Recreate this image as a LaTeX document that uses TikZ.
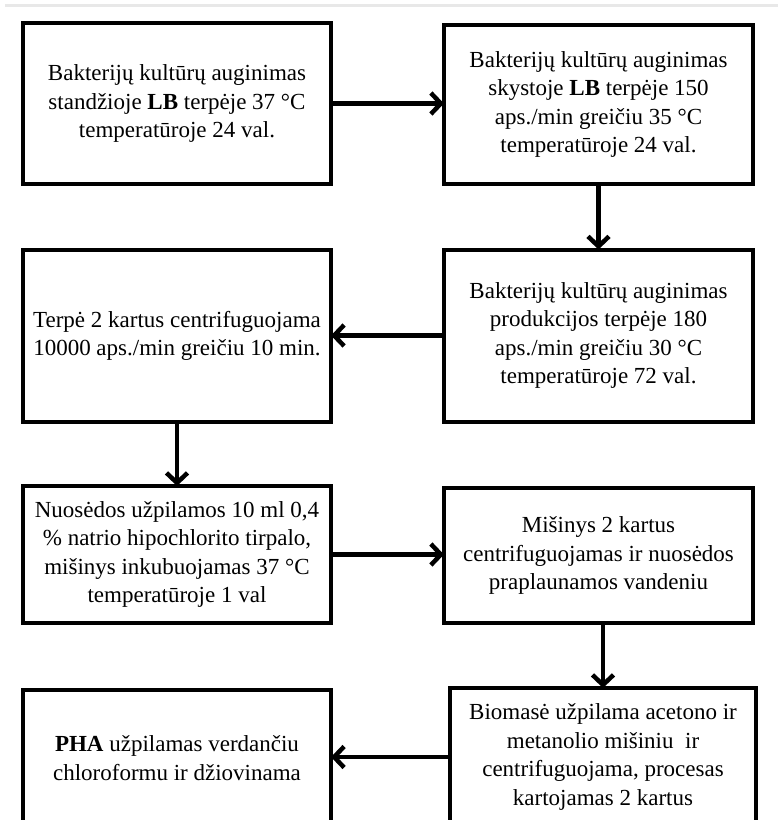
\documentclass[tikz,border=0pt]{standalone}
\usepackage{fontspec}
\setmainfont{Liberation Serif}
\usetikzlibrary{arrows.meta}
\begin{document}
\begin{tikzpicture}[x=1pt,y=-1pt,
  box/.style={draw=black, line width=4pt, inner sep=0pt, outer sep=0pt,
    align=center, font=\fontsize{23}{28.5}\selectfont},
  flow/.style={line width=4.5pt, -{Straight Barb[length=10pt,width=21pt]}}]
\useasboundingbox (0,0) rectangle (780,820);
\fill[gray!18] (5,4) rectangle (778,7);
\node[box, minimum width=308pt, minimum height=161pt] (b1) at (177,103.5)
  {Bakterijų kultūrų auginimas\\ standžioje \textbf{LB} terpėje 37 °C\\ temperatūroje 24 val.};
\node[box, minimum width=309pt, minimum height=159pt] (b2) at (598.5,104.5)
  {Bakterijų kultūrų auginimas\\ skystoje \textbf{LB} terpėje 150\\ aps./min greičiu 35 °C\\ temperatūroje 24 val.};
\node[box, minimum width=309pt, minimum height=172pt] (b3) at (598.5,335.5)
  {Bakterijų kultūrų auginimas\\ produkcijos terpėje 180\\ aps./min greičiu 30 °C\\ temperatūroje 72 val.};
\node[box, minimum width=308pt, minimum height=171.5pt] (b4) at (177,335.75)
  {Terpė 2 kartus centrifuguojama\\ 10000 aps./min greičiu 10 min.};
\node[box, minimum width=308pt, minimum height=137pt] (b5) at (177,554.5)
  {Nuosėdos užpilamos 10 ml 0,4\\ \% natrio hipochlorito tirpalo,\\ mišinys inkubuojamas 37 °C\\ temperatūroje 1 val};
\node[box, minimum width=309pt, minimum height=135pt] (b6) at (598.5,555.5)
  {Mišinys 2 kartus\\ centrifuguojamas ir nuosėdos\\ praplaunamos vandeniu};
\node[box, minimum width=306pt, minimum height=138pt] (b7) at (603,757)
  {Biomasė užpilama acetono ir\\ metanolio mišiniu\ \ ir\\ centrifuguojama, procesas\\ kartojamas 2 kartus};
\node[box, minimum width=308pt, minimum height=136pt] (b8) at (177,758)
  {\textbf{PHA} užpilamas verdančiu\\ chloroformu ir džiovinama};
\draw[flow] (b1.east) -- (b1.east -| b2.west);
\draw[flow] (b2.south) -- (b2.south |- b3.north);
\draw[flow] (b3.west) -- (b3.west -| b4.east);
\draw[flow] (b4.south) -- (b4.south |- b5.north);
\draw[flow] (b5.east) -- (b5.east -| b6.west);
\draw[flow] (b6.south -| b7.north) -- (b7.north);
\draw[flow] (b7.west) -- (b7.west -| b8.east);
\end{tikzpicture}
\end{document}
